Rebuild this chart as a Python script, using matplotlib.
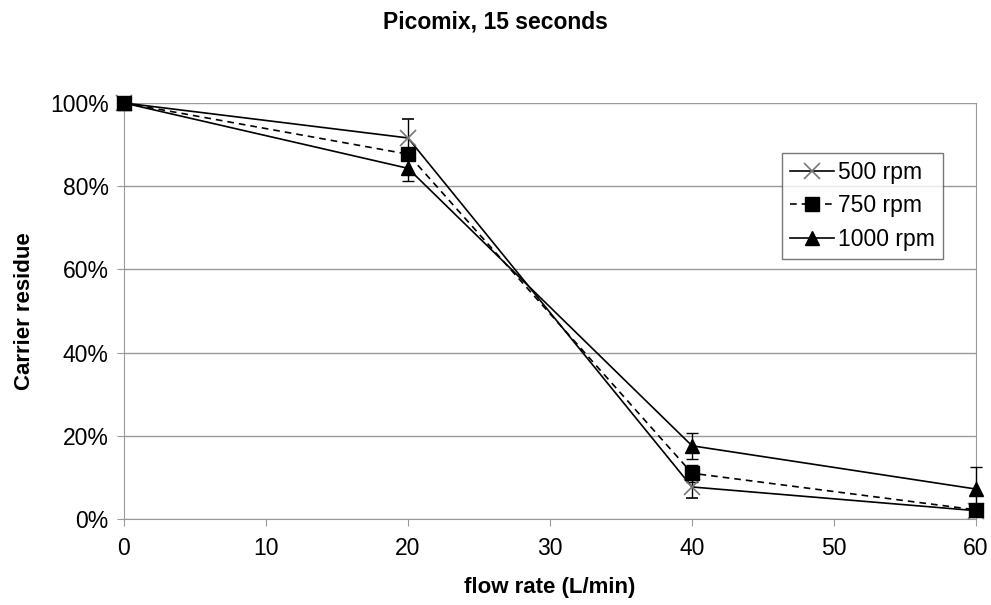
import matplotlib
matplotlib.use("Agg")
import matplotlib.pyplot as plt
from matplotlib.lines import Line2D
from matplotlib.ticker import PercentFormatter

plt.rcParams["font.family"] = ["Liberation Sans", "DejaVu Sans"]

# [DATA]
flow = [0, 20, 40, 60]
rpm_500 = [100, 91.6, 7.7, 2.0]
rpm_500_err = [0, 4.5, 2.6, 0.5]
rpm_750 = [100, 87.7, 11.0, 2.2]
rpm_750_err = [0, 1.5, 2.0, 0.5]
rpm_1000 = [100, 84.3, 17.6, 7.2]
rpm_1000_err = [0, 3.0, 3.1, 5.3]

fig = plt.figure(figsize=(9.91, 6.05), dpi=100)
ax = fig.add_axes([124 / 991, 1 - 519 / 605, 852 / 991, 416 / 605])

err_kw = dict(ecolor="black", elinewidth=1, capsize=4, capthick=1)
styles = [
    dict(marker="x", markersize=11, markeredgecolor="#777777",
         markeredgewidth=1.2, linestyle="-"),
    dict(marker="s", markersize=10, linestyle=(0, (4, 3))),
    dict(marker="^", markersize=10, linestyle="-"),
]
series = [(rpm_500, rpm_500_err, "500 rpm"),
          (rpm_750, rpm_750_err, "750 rpm"),
          (rpm_1000, rpm_1000_err, "1000 rpm")]

handles = []
for (vals, errs, name), st in zip(series, styles):
    cont = ax.errorbar(flow, vals, yerr=errs, color="black", linewidth=1.2,
                       zorder=3, **st, **err_kw)
    for art in cont.get_children():
        art.set_clip_on(False)
    handles.append(Line2D([0], [0], color="black", linewidth=1.2,
                          label=name, **st))

ax.set_xlim(0, 60)
ax.set_ylim(0, 100)
ax.set_xticks(range(0, 61, 10))
ax.set_yticks(range(0, 101, 20))
ax.yaxis.set_major_formatter(PercentFormatter(decimals=0))
ax.grid(axis="y", color="#999999", linewidth=1)
ax.set_axisbelow(True)
for side in ["top", "right", "left", "bottom"]:
    ax.spines[side].set_color("#999999")
ax.spines["top"].set_visible(False)
ax.tick_params(labelsize=16.5, color="#999999", length=5, direction="out")
ax.tick_params(axis="x", pad=8)
ax.tick_params(axis="y", pad=6)

ax.set_xlabel("flow rate (L/min)", fontsize=16, fontweight="bold", labelpad=12)
ax.set_ylabel("Carrier residue", fontsize=16, fontweight="bold", labelpad=11)
fig.suptitle("Picomix, 15 seconds", fontsize=16.5, fontweight="bold", y=0.983)

leg = ax.legend(handles=handles, loc="upper left",
                bbox_to_anchor=(658 / 852, (519 - 153) / 416), fontsize=16.5,
                frameon=True, fancybox=False, edgecolor="#555555",
                handlelength=1.9, handletextpad=0.2, borderpad=0.35,
                labelspacing=0.45, borderaxespad=0)
leg.get_frame().set_linewidth(1)

fig.savefig("out.png", dpi=100)
